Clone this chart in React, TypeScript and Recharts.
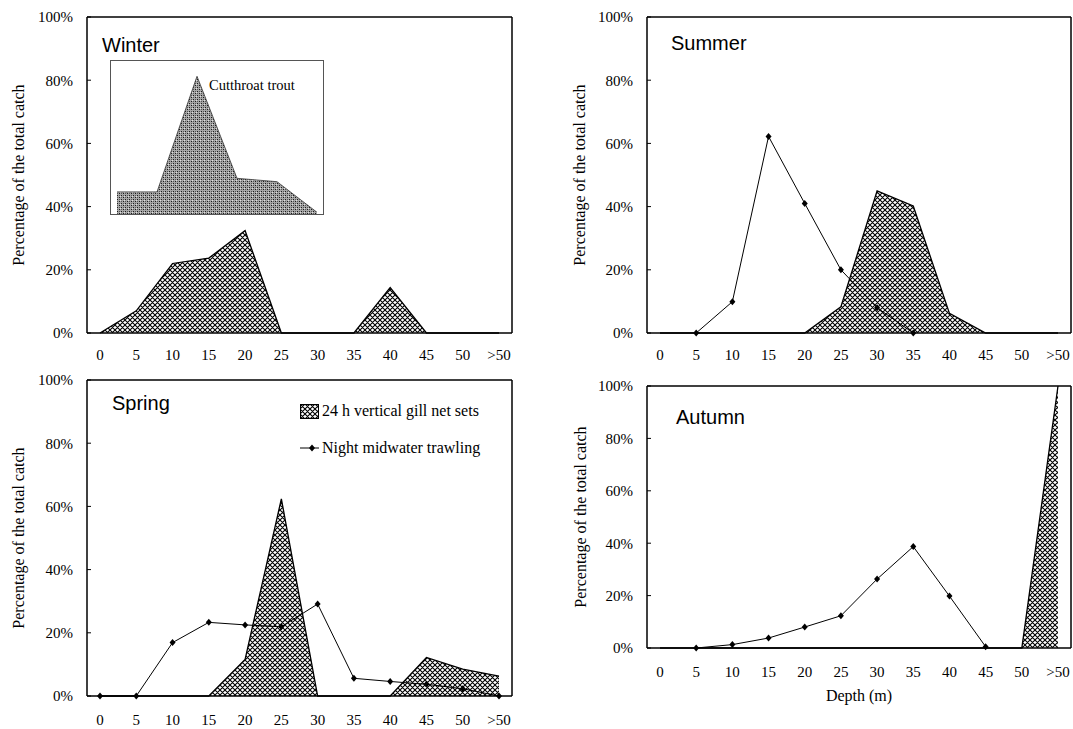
import { ComposedChart, AreaChart, Area, Line, XAxis, YAxis, Legend } from "recharts"

const depths = ["0", "5", "10", "15", "20", "25", "30", "35", "40", "45", "50", ">50"]
const pctTicks = [0, 20, 40, 60, 80, 100]

// 24 h vertical gill net sets (% of total catch)
const winterGill = [0, 7, 22, 23.7, 32.4, 0, 0, 0, 14.4, 0, 0, 0]
const summerGill = [0, 0, 0, 0, 0, 8.3, 45, 40.2, 6.2, 0, 0, 0]
const springGill = [0, 0, 0, 0, 11.6, 62.4, 0, 0, 0, 12.2, 8.5, 6.3]
const autumnGill = [0, 0, 0, 0, 0, 0, 0, 0, 0, 0, 0, 100]

// night midwater trawling (% of total catch)
const summerTrawl = [null, 0, 9.9, 62.2, 41, 20, 8, 0, null, null, null, null]
const springTrawl = [0, 0, 16.9, 23.3, 22.5, 21.9, 29.1, 5.6, 4.6, 3.7, 2.3, 0]
const autumnTrawl = [null, 0, 1.3, 3.8, 8, 12.3, 26.3, 38.7, 19.8, 0.5, null, null]

// winter inset, cutthroat trout
const troutSteps = ["1", "2", "3", "4", "5", "6"]
const troutPct = [13, 13, 81, 21, 19, 1]

const SERIF = "'Liberation Serif', 'Times New Roman', serif"
const SANS = "'Liberation Sans', Arial, sans-serif"
const axisStyle = { stroke: "#000", strokeWidth: 1.5 }
const tickStyle = { fill: "#000", fontSize: 15, fontFamily: SERIF }

const Diamond = (props: any) => {
  const { cx, cy, index, value } = props
  if (cx == null || cy == null || value == null) return <g key={index} />
  return (
    <path
      key={index}
      d={`M${cx},${cy - 3.5}L${cx + 3},${cy}L${cx},${cy + 3.5}L${cx - 3},${cy}Z`}
      fill="#000"
    />
  )
}

const yTitle = (dx: number) => (props: any) => {
  const vb = props.viewBox
  const x = vb.x + dx
  const y = vb.y + vb.height / 2
  return (
    <text
      x={x}
      y={y}
      transform={`rotate(-90 ${x} ${y})`}
      textAnchor="middle"
      dominantBaseline="central"
      style={{ fontFamily: SERIF, fontSize: 16, fill: "#000" }}
    >
      Percentage of the total catch
    </text>
  )
}

const depthTitle = (props: any) => {
  const vb = props.viewBox
  return (
    <text
      x={vb.x + vb.width / 2}
      y={vb.y + 47}
      textAnchor="middle"
      dominantBaseline="central"
      style={{ fontFamily: SERIF, fontSize: 16, fill: "#000" }}
    >
      Depth (m)
    </text>
  )
}

const LegendBox = () => (
  <div style={{ fontFamily: SERIF, fontSize: 16, color: "#000", lineHeight: "20px" }}>
    <div style={{ display: "flex", alignItems: "center" }}>
      <svg width={20} height={15} style={{ marginRight: 2 }}>
        <rect x={0.5} y={0.5} width={18} height={14} fill="url(#hatch)" stroke="#000" />
      </svg>
      24 h vertical gill net sets
    </div>
    <div style={{ display: "flex", alignItems: "center", marginTop: 17 }}>
      <svg width={20} height={10} style={{ marginRight: 2 }}>
        <line x1={0} y1={5} x2={19} y2={5} stroke="#000" />
        <path d="M12,1.5L15,5L12,8.5L9,5Z" fill="#000" />
      </svg>
      Night midwater trawling
    </div>
  </div>
)

function Panel(p: any) {
  const data = depths.map((d, i) => ({
    depth: d,
    gill: p.gill[i],
    trawl: p.trawl ? p.trawl[i] : null,
  }))
  return (
    <div style={{ position: "absolute", left: p.left, top: p.top }}>
      <ComposedChart width={p.width} height={p.height} data={data} margin={p.margin}>
        <XAxis
          dataKey="depth"
          interval={0}
          padding={{ left: 13, right: 13 }}
          height={p.xh}
          tickSize={0}
          tickMargin={p.tm}
          tickLine={false}
          axisLine={axisStyle}
          tick={tickStyle}
          label={p.xLabel ? { content: depthTitle } : undefined}
        />
        <XAxis
          xAxisId="top"
          orientation="top"
          dataKey="depth"
          height={1}
          tick={false}
          tickLine={false}
          axisLine={axisStyle}
        />
        <YAxis
          domain={[0, 100]}
          ticks={pctTicks}
          interval={0}
          width={77}
          tickSize={-4}
          tickMargin={18}
          tickLine={{ stroke: "#000", strokeWidth: 1 }}
          axisLine={axisStyle}
          tick={tickStyle}
          tickFormatter={(v: number) => `${v}%`}
          label={{ content: yTitle(p.titleDx) }}
        />
        <YAxis
          yAxisId="right"
          orientation="right"
          domain={[0, 100]}
          width={1}
          tick={false}
          tickLine={false}
          axisLine={axisStyle}
        />
        <Area
          type="linear"
          dataKey="gill"
          name="24 h vertical gill net sets"
          stroke="#000"
          strokeWidth={1.3}
          fill="url(#hatch)"
          fillOpacity={1}
          dot={false}
          activeDot={false}
          isAnimationActive={false}
        />
        {p.trawl && (
          <Line
            type="linear"
            dataKey="trawl"
            name="Night midwater trawling"
            stroke="#000"
            strokeWidth={1}
            dot={Diamond}
            activeDot={false}
            isAnimationActive={false}
          />
        )}
        {p.legend && (
          <Legend
            layout="vertical"
            align="center"
            verticalAlign="middle"
            content={LegendBox}
            wrapperStyle={{ left: 300, top: 31, width: 200, height: "auto" }}
          />
        )}
      </ComposedChart>
    </div>
  )
}

const titleStyle = (left: number, top: number): any => ({
  position: "absolute",
  left,
  top,
  fontFamily: SANS,
  fontSize: 20,
  lineHeight: "20px",
  color: "#000",
})

export default function App() {
  const troutData = troutSteps.map((s, i) => ({ step: s, pct: troutPct[i] }))
  return (
    <div style={{ position: "absolute", left: 0, top: 0, width: 1073, height: 729, background: "#fff", overflow: "hidden" }}>
      <svg width={0} height={0} style={{ position: "absolute" }}>
        <defs>
          <pattern id="hatch" width={5} height={5} patternUnits="userSpaceOnUse">
            <rect width={5} height={5} fill="#fff" />
            <path d="M0,0L5,5M5,0L0,5M-1,1L1,-1M4,6L6,4" stroke="#000" strokeWidth={1.1} />
          </pattern>
          <pattern id="stipple" width={4} height={4} patternUnits="userSpaceOnUse">
            <rect width={4} height={4} fill="#a6a6a6" />
            <rect x={0} y={0} width={1} height={1} fill="#1a1a1a" />
            <rect x={2} y={2} width={1} height={1} fill="#1a1a1a" />
            <rect x={2} y={0} width={1} height={1} fill="#555" />
            <rect x={0} y={2} width={1} height={1} fill="#555" />
            <rect x={1} y={3} width={1} height={1} fill="#ddd" />
          </pattern>
        </defs>
      </svg>

      <Panel left={0} top={0} width={530} height={370} margin={{ top: 16, right: 17, bottom: 0, left: 10 }} xh={37} tm={16} titleDx={8} gill={winterGill} />
      <Panel left={540} top={0} width={533} height={370} margin={{ top: 16, right: 1, bottom: 0, left: 30 }} xh={37} tm={16} titleDx={9} gill={summerGill} trawl={summerTrawl} />
      <Panel left={0} top={370} width={530} height={359} margin={{ top: 9, right: 17, bottom: 0, left: 10 }} xh={33} tm={18} titleDx={8} gill={springGill} trawl={springTrawl} legend />
      <Panel left={540} top={370} width={533} height={359} margin={{ top: 15, right: 1, bottom: 0, left: 30 }} xh={81} tm={18} titleDx={10} gill={autumnGill} trawl={autumnTrawl} xLabel />

      <div style={{ position: "absolute", left: 110, top: 60, width: 214, height: 155, border: "1px solid #555", boxSizing: "border-box" }}>
        <AreaChart width={212} height={153} data={troutData} margin={{ top: 0, right: 0, bottom: 0, left: 0 }}>
          <XAxis dataKey="step" hide padding={{ left: 6, right: 6 }} />
          <YAxis hide domain={[0, 90]} />
          <Area type="linear" dataKey="pct" stroke="#333" strokeWidth={0.8} fill="url(#stipple)" fillOpacity={1} dot={false} activeDot={false} isAnimationActive={false} />
        </AreaChart>
        <div style={{ position: "absolute", left: 98, top: 16, fontFamily: SERIF, fontSize: 14.5, color: "#000" }}>Cutthroat trout</div>
      </div>

      <div style={titleStyle(102, 35)}>Winter</div>
      <div style={titleStyle(671, 33)}>Summer</div>
      <div style={titleStyle(112, 393)}>Spring</div>
      <div style={titleStyle(676, 407)}>Autumn</div>
    </div>
  )
}
